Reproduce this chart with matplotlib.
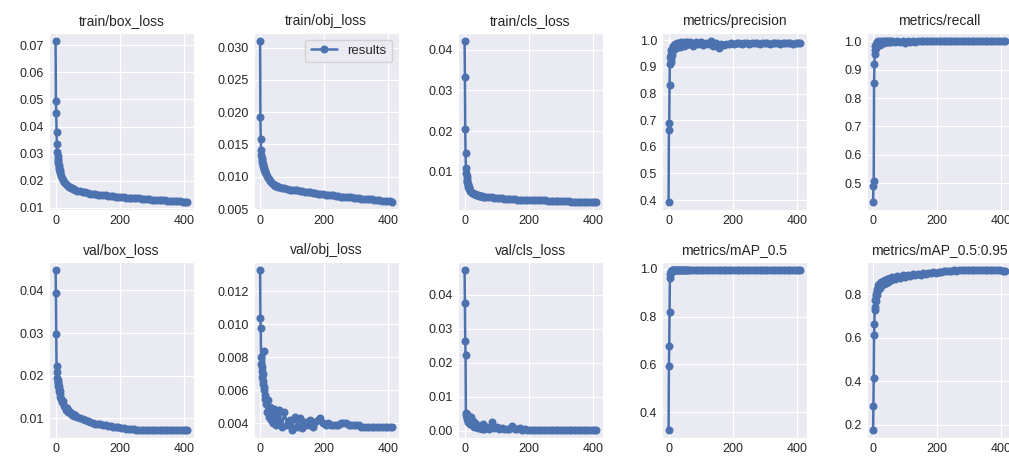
import matplotlib
matplotlib.use("Agg")
import matplotlib.pyplot as plt
import seaborn as sns

EPOCHS = [0, 1, 2, 3, 4, 5, 6, 7, 8, 9, 10, 11, 12, 13, 14, 15,
          18, 21, 24, 27, 30, 33, 36, 39, 42, 45, 48, 51, 54, 57, 60,
          68, 76, 84, 92, 100, 108, 116, 124, 132, 140, 148, 156, 164, 172, 180,
          188, 196, 204, 212, 220, 228, 236, 244, 252, 260, 268, 276, 284, 292, 300,
          308, 316, 324, 332, 340, 348, 356, 364, 372, 380, 388, 396, 404, 411]

TITLES = ["train/box_loss", "train/obj_loss", "train/cls_loss", "metrics/precision", "metrics/recall",
          "val/box_loss", "val/obj_loss", "val/cls_loss", "metrics/mAP_0.5", "metrics/mAP_0.5:0.95"]

train_box_loss = [0.0715, 0.0495, 0.0448, 0.0380, 0.0335, 0.0305, 0.0292, 0.0282, 0.0272, 0.0264, 0.0257, 0.0250, 0.0244, 0.0239, 0.0234, 0.0230,
                  0.0219, 0.0210, 0.0203, 0.0197, 0.0192, 0.0188, 0.0184, 0.0181, 0.0178, 0.0176, 0.0174, 0.0172, 0.0170, 0.0168, 0.0167,
                  0.0164, 0.0161, 0.0159, 0.0157, 0.0155, 0.0153, 0.0152, 0.0151, 0.0149, 0.0148, 0.0147, 0.0146, 0.0145, 0.0144, 0.0143,
                  0.0142, 0.0141, 0.0140, 0.0139, 0.0138, 0.0138, 0.0137, 0.0136, 0.0135, 0.0135, 0.0134, 0.0133, 0.0133, 0.0132, 0.0131,
                  0.0131, 0.0130, 0.0129, 0.0129, 0.0128, 0.0127, 0.0127, 0.0126, 0.0125, 0.0125, 0.0124, 0.0123, 0.0123, 0.0122]

train_obj_loss = [0.0310, 0.0193, 0.0158, 0.0142, 0.0133, 0.0129, 0.0126, 0.0123, 0.0120, 0.0118, 0.0116, 0.0114, 0.0112, 0.0111, 0.0109, 0.0108,
                  0.0104, 0.0101, 0.0098, 0.0096, 0.0094, 0.0092, 0.0091, 0.0089, 0.0088, 0.0087, 0.0086, 0.0086, 0.0085, 0.0084, 0.0084,
                  0.0083, 0.0082, 0.0081, 0.0080, 0.0080, 0.0079, 0.0079, 0.0078, 0.0078, 0.0077, 0.0076, 0.0076, 0.0075, 0.0075, 0.0074,
                  0.0074, 0.0073, 0.0072, 0.0072, 0.0071, 0.0071, 0.0070, 0.0070, 0.0069, 0.0069, 0.0069, 0.0068, 0.0068, 0.0067, 0.0067,
                  0.0067, 0.0066, 0.0066, 0.0066, 0.0065, 0.0065, 0.0064, 0.0064, 0.0064, 0.0063, 0.0063, 0.0062, 0.0062, 0.0061]

train_cls_loss = [0.0422, 0.0333, 0.0206, 0.0146, 0.0110, 0.0096, 0.0088, 0.0082, 0.0077, 0.0073, 0.0069, 0.0066, 0.0063, 0.0061, 0.0059, 0.0057,
                  0.0053, 0.0050, 0.0048, 0.0046, 0.0045, 0.0044, 0.0043, 0.0042, 0.0041, 0.0040, 0.0040, 0.0039, 0.0039, 0.0038, 0.0038,
                  0.0037, 0.0036, 0.0036, 0.0035, 0.0035, 0.0034, 0.0034, 0.0033, 0.0033, 0.0033, 0.0032, 0.0032, 0.0031, 0.0031, 0.0031,
                  0.0030, 0.0030, 0.0030, 0.0030, 0.0029, 0.0029, 0.0029, 0.0029, 0.0029, 0.0028, 0.0028, 0.0028, 0.0028, 0.0027, 0.0027,
                  0.0027, 0.0027, 0.0027, 0.0026, 0.0026, 0.0026, 0.0026, 0.0026, 0.0025, 0.0025, 0.0025, 0.0025, 0.0025, 0.0025]

precision = [0.393, 0.663, 0.688, 0.833, 0.912, 0.938, 0.918, 0.948, 0.930, 0.962, 0.945, 0.968, 0.955, 0.975, 0.962, 0.978,
             0.968, 0.985, 0.972, 0.988, 0.978, 0.990, 0.975, 0.992, 0.982, 0.990, 0.978, 0.993, 0.983, 0.995, 0.985,
             0.993, 0.980, 0.995, 0.985, 0.992, 0.983, 0.990, 0.985, 0.997, 0.980, 0.988, 0.972, 0.985, 0.982, 0.986,
             0.987, 0.988, 0.987, 0.988, 0.988, 0.987, 0.988, 0.988, 0.987, 0.988, 0.988, 0.988, 0.987, 0.988, 0.988,
             0.988, 0.987, 0.988, 0.988, 0.988, 0.987, 0.988, 0.988, 0.988, 0.988, 0.987, 0.988, 0.988, 0.988]

recall = [0.435, 0.490, 0.508, 0.852, 0.918, 0.955, 0.970, 0.982, 0.975, 0.990, 0.985, 0.995, 0.990, 0.998, 0.992, 1.000,
          0.995, 0.985, 1.000, 0.995, 1.000, 0.993, 1.000, 0.998, 1.000, 0.996, 1.000, 0.998, 1.000, 0.997, 1.000,
          0.998, 1.000, 0.996, 1.000, 0.994, 1.000, 0.998, 1.000, 0.997, 1.000, 0.999, 1.000, 1.000, 0.999, 1.000,
          1.000, 1.000, 1.000, 1.000, 1.000, 1.000, 1.000, 1.000, 1.000, 1.000, 1.000, 1.000, 1.000, 1.000, 1.000,
          1.000, 1.000, 1.000, 1.000, 1.000, 1.000, 1.000, 1.000, 1.000, 1.000, 1.000, 1.000, 1.000, 1.000]

val_box_loss = [0.0448, 0.0394, 0.0297, 0.0222, 0.0209, 0.0195, 0.0182, 0.0190, 0.0176, 0.0186, 0.0172, 0.0165, 0.0176, 0.0158, 0.0164, 0.0150,
                0.0145, 0.0138, 0.0142, 0.0130, 0.0126, 0.0120, 0.0124, 0.0115, 0.0118, 0.0112, 0.0114, 0.0108, 0.0111, 0.0105, 0.0107,
                0.0103, 0.0100, 0.0099, 0.0096, 0.0093, 0.0091, 0.0089, 0.0088, 0.0087, 0.0086, 0.0085, 0.0084, 0.0083, 0.0082, 0.0081,
                0.0080, 0.0079, 0.0078, 0.0077, 0.0076, 0.0075, 0.0075, 0.0075, 0.0074, 0.0074, 0.0074, 0.0073, 0.0073, 0.0073, 0.0073,
                0.0073, 0.0073, 0.0073, 0.0073, 0.0073, 0.0073, 0.0073, 0.0073, 0.0073, 0.0073, 0.0073, 0.0074, 0.0074, 0.0074]

val_obj_loss = [0.0133, 0.0104, 0.0098, 0.0080, 0.0076, 0.0072, 0.0074, 0.0068, 0.0070, 0.0064, 0.0066, 0.0060, 0.0084, 0.0062, 0.0057, 0.0055,
                0.0052, 0.0047, 0.0054, 0.0044, 0.0050, 0.0042, 0.0048, 0.0040, 0.0049, 0.0043, 0.0047, 0.0039, 0.0045, 0.0041, 0.0048,
                0.0038, 0.0047, 0.0039, 0.0042, 0.0036, 0.0044, 0.0038, 0.0043, 0.0037, 0.0041, 0.0039, 0.0042, 0.0038, 0.0041, 0.0042,
                0.0043, 0.0040, 0.0039, 0.0040, 0.0039, 0.0039, 0.0039, 0.0039, 0.0040, 0.0040, 0.0040, 0.0039, 0.0039, 0.0039, 0.0039,
                0.0039, 0.0038, 0.0038, 0.0038, 0.0038, 0.0038, 0.0038, 0.0038, 0.0038, 0.0038, 0.0038, 0.0038, 0.0038, 0.0038]

val_cls_loss = [0.0473, 0.0376, 0.0265, 0.0224, 0.0052, 0.0045, 0.0040, 0.0048, 0.0035, 0.0042, 0.0030, 0.0038, 0.0025, 0.0034, 0.0022, 0.0030,
                0.0020, 0.0040, 0.0018, 0.0028, 0.0012, 0.0022, 0.0010, 0.0018, 0.0008, 0.0015, 0.0007, 0.0012, 0.0006, 0.0020, 0.0006,
                0.0010, 0.0005, 0.0026, 0.0008, 0.0012, 0.0004, 0.0008, 0.0004, 0.0006, 0.0004, 0.0014, 0.0005, 0.0004, 0.0008, 0.0003,
                0.0004, 0.0003, 0.0003, 0.0003, 0.0002, 0.0003, 0.0002, 0.0002, 0.0002, 0.0002, 0.0002, 0.0002, 0.0002, 0.0002, 0.0002,
                0.0002, 0.0002, 0.0002, 0.0002, 0.0002, 0.0002, 0.0002, 0.0002, 0.0002, 0.0002, 0.0002, 0.0002, 0.0002, 0.0002]

map50 = [0.326, 0.595, 0.678, 0.818, 0.960, 0.978, 0.985, 0.982, 0.990, 0.987, 0.992, 0.990, 0.993, 0.991, 0.994, 0.993,
         0.994, 0.993, 0.995, 0.994, 0.995, 0.994, 0.995, 0.994, 0.995, 0.995, 0.994, 0.995, 0.995, 0.994, 0.995,
         0.995, 0.995, 0.994, 0.995, 0.995, 0.995, 0.995, 0.994, 0.995, 0.995, 0.995, 0.995, 0.995, 0.995, 0.995,
         0.995, 0.995, 0.995, 0.995, 0.995, 0.995, 0.995, 0.995, 0.995, 0.995, 0.995, 0.995, 0.995, 0.995, 0.995,
         0.995, 0.995, 0.995, 0.995, 0.995, 0.995, 0.995, 0.995, 0.995, 0.995, 0.995, 0.995, 0.995, 0.995]

map50_95 = [0.177, 0.287, 0.415, 0.615, 0.662, 0.740, 0.728, 0.775, 0.790, 0.770, 0.800, 0.815, 0.795, 0.825, 0.840, 0.818,
            0.845, 0.830, 0.855, 0.840, 0.860, 0.848, 0.866, 0.852, 0.868, 0.858, 0.872, 0.860, 0.874, 0.866, 0.878,
            0.870, 0.882, 0.875, 0.888, 0.880, 0.890, 0.884, 0.892, 0.887, 0.894, 0.890, 0.897, 0.893, 0.899, 0.896,
            0.901, 0.899, 0.904, 0.902, 0.906, 0.905, 0.908, 0.907, 0.909, 0.908, 0.910, 0.909, 0.911, 0.910, 0.911,
            0.910, 0.911, 0.910, 0.911, 0.910, 0.911, 0.910, 0.910, 0.909, 0.910, 0.909, 0.909, 0.908, 0.907]

SERIES = [train_box_loss, train_obj_loss, train_cls_loss, precision, recall,
          val_box_loss, val_obj_loss, val_cls_loss, map50, map50_95]

sns.set_style("darkgrid")
plt.rcParams["font.family"] = ["Liberation Sans", "DejaVu Sans"]

W, H = 1009, 457
fig = plt.figure(figsize=(W / 100, H / 100), dpi=100)

lefts = [49, 253.5, 458, 662, 866.5]
width = 145
rows = [(33, 210), (262, 438)]

for i, (title, ys) in enumerate(zip(TITLES, SERIES)):
    r, c = divmod(i, 5)
    top, bottom = rows[r]
    ax = fig.add_axes([lefts[c] / W, 1 - bottom / H, width / W, (bottom - top) / H])
    ax.plot(EPOCHS, ys, marker=".", markersize=9.5, linewidth=1.8, color="#4C72B0", label="results")
    ax.set_title(title, fontsize=10, color="#262626", pad=6)
    ax.tick_params(labelsize=9, colors="#262626", length=0)
    if i == 1:
        ax.legend(loc="upper right", fontsize=9.5)

fig.savefig("out.png", dpi=100)
